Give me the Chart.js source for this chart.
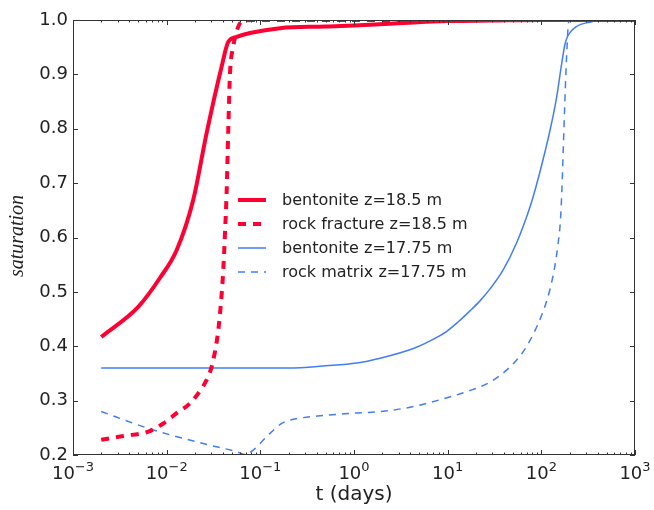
<!DOCTYPE html>
<html>
<head>
<meta charset="utf-8">
<script src="https://cdn.jsdelivr.net/npm/chart.js@4.4.1/dist/chart.umd.min.js"></script>
<style>
  html, body { margin: 0; padding: 0; background: #fff; }
  #wrap { width: 654px; height: 510px; }
</style>
</head>
<body>
<div id="wrap"><canvas id="chart"></canvas></div>
<script>
// bentonite z=18.5 m
const bent185T = [0.002, 0.005, 0.0085, 0.0128, 0.0192, 0.0267, 0.0386, 0.0455, 0.0558, 0.0775, 0.162, 0.5, 1, 2.4, 10, 30, 100, 1000];
const bent185S = [0.417, 0.473, 0.526, 0.577, 0.669, 0.792, 0.914, 0.960, 0.969, 0.976, 0.985, 0.988, 0.990, 0.993, 0.998, 0.999, 1.0, 1.0];

// rock fracture z=18.5 m
const frac185T = [0.002, 0.00344, 0.00637, 0.0092, 0.0128, 0.0177, 0.0227, 0.0267, 0.0302, 0.0328, 0.0356, 0.038, 0.0402, 0.042, 0.0436, 0.0455, 0.0474, 0.0514, 0.056, 0.063, 0.08, 1000];
const frac185S = [0.228, 0.235, 0.243, 0.258, 0.277, 0.295, 0.318, 0.338, 0.362, 0.39, 0.43, 0.48, 0.54, 0.61, 0.68, 0.80, 0.90, 0.951, 0.98, 0.997, 1.0, 1.0];

// bentonite z=17.75 m
const bent1775T = [0.002, 0.01, 0.2, 0.5, 1.07, 1.9, 4.3, 6.5, 9.7, 13, 17.3, 22, 28.2, 39, 54.4, 72, 81.8, 96.4, 123, 145, 164, 178, 193, 237, 330, 450, 1000];
const bent1775S = [0.36, 0.36, 0.36, 0.364, 0.369, 0.378, 0.396, 0.41, 0.427, 0.445, 0.465, 0.483, 0.505, 0.54, 0.59, 0.645, 0.675, 0.72, 0.795, 0.856, 0.917, 0.954, 0.972, 0.988, 0.996, 1.0, 1.0];

// rock matrix z=17.75 m
const matr1775T = [0.002, 0.00637, 0.0245, 0.0558, 0.0686, 0.084, 0.117, 0.169, 0.207, 0.5, 1, 1.9, 4.3, 9.7, 17, 28.2, 42.5, 64, 81.8, 105, 123, 139, 151, 160, 166, 172, 180, 188, 196, 250, 1000];
const matr1775S = [0.28, 0.249, 0.221, 0.206, 0.201, 0.209, 0.234, 0.258, 0.264, 0.273, 0.277, 0.28, 0.289, 0.305, 0.318, 0.334, 0.356, 0.39, 0.422, 0.465, 0.503, 0.546, 0.589, 0.632, 0.69, 0.77, 0.87, 0.95, 0.997, 1.0, 1.0];

const yTicks = [0.2, 0.3, 0.4, 0.5, 0.6, 0.7, 0.8, 0.9, 1.0];
const xExponents = [-3, -2, -1, 0, 1, 2, 3];

const RED = '#ff0033';
const BLUE = 'rgb(66,125,245)';
const INK = '#222';

function pts(t, s) {
    return t.map((v, i) => ({ x: v, y: s[i] }));
}

// frame, inward ticks, x labels with superscripts, titles, legend
const decorPlugin = {
    id: 'decor',
    afterDatasetsDraw(chart) {
        const ctx = chart.ctx;
        const a = chart.chartArea;
        const xs = chart.scales.x;
        const ys = chart.scales.y;
        ctx.save();

        // frame
        ctx.strokeStyle = '#333';
        ctx.lineWidth = 1;
        ctx.strokeRect(a.left + 0.5, a.top + 0.5, a.right - a.left - 1, a.bottom - a.top - 1);

        // x ticks
        ctx.beginPath();
        xExponents.forEach((e, i) => {
            const dec = Math.pow(10, e);
            const px = Math.round(xs.getPixelForValue(dec)) + 0.5;
            ctx.moveTo(px, a.bottom); ctx.lineTo(px, a.bottom - 5);
            ctx.moveTo(px, a.top); ctx.lineTo(px, a.top + 5);
            if (i < xExponents.length - 1) {
                for (let m = 2; m < 10; m++) {
                    const mx = Math.round(xs.getPixelForValue(m * dec)) + 0.5;
                    ctx.moveTo(mx, a.bottom); ctx.lineTo(mx, a.bottom - 2.5);
                    ctx.moveTo(mx, a.top); ctx.lineTo(mx, a.top + 2.5);
                }
            }
        });
        // y ticks
        yTicks.forEach(v => {
            const py = Math.round(ys.getPixelForValue(v)) + 0.5;
            ctx.moveTo(a.left, py); ctx.lineTo(a.left + 5, py);
            ctx.moveTo(a.right, py); ctx.lineTo(a.right - 5, py);
        });
        ctx.stroke();

        // x tick labels 10^n
        ctx.fillStyle = INK;
        ctx.textBaseline = 'alphabetic';
        ctx.textAlign = 'left';
        xExponents.forEach(e => {
            const px = xs.getPixelForValue(Math.pow(10, e));
            const exp = e < 0 ? '\u2212' + Math.abs(e) : String(e);
            ctx.font = '18px "DejaVu Sans"';
            const wb = ctx.measureText('10').width;
            ctx.font = '13px "DejaVu Sans"';
            const we = ctx.measureText(exp).width;
            const x0 = px - (wb + we) / 2;
            ctx.font = '18px "DejaVu Sans"';
            ctx.fillText('10', x0, 479);
            ctx.font = '13px "DejaVu Sans"';
            ctx.fillText(exp, x0 + wb, 471);
        });

        // axis titles
        ctx.textAlign = 'center';
        ctx.textBaseline = 'middle';
        ctx.font = '20px "DejaVu Sans"';
        ctx.fillText('t (days)', (a.left + a.right) / 2, 495);
        ctx.save();
        ctx.translate(18, 236);
        ctx.rotate(-Math.PI / 2);
        ctx.font = 'italic 20px "Liberation Serif"';
        ctx.fillText('saturation', 0, 0);
        ctx.restore();

        // legend
        const legTop = 200, legStep = 24;
        ctx.textAlign = 'left';
        ctx.font = '16px "DejaVu Sans"';
        chart.data.datasets.forEach((ds, i) => {
            const y = legTop + i * legStep;
            ctx.save();
            ctx.strokeStyle = ds.borderColor;
            ctx.lineWidth = ds.borderWidth;
            ctx.setLineDash(ds.borderDash || []);
            ctx.beginPath();
            ctx.moveTo(238, y);
            ctx.lineTo(266, y);
            ctx.stroke();
            ctx.restore();
            ctx.fillStyle = INK;
            ctx.fillText(ds.label, 282, y + 1);
        });

        ctx.restore();
    }
};

const ctx = document.getElementById('chart').getContext('2d');
new Chart(ctx, {
    type: 'line',
    data: {
        datasets: [
            {
                label: 'bentonite z=18.5 m',
                data: pts(bent185T, bent185S),
                borderColor: RED,
                borderWidth: 4,
                cubicInterpolationMode: 'monotone'
            },
            {
                label: 'rock fracture z=18.5 m',
                data: pts(frac185T, frac185S),
                borderColor: RED,
                borderWidth: 4,
                borderDash: [8, 7],
                cubicInterpolationMode: 'monotone'
            },
            {
                label: 'bentonite z=17.75 m',
                data: pts(bent1775T, bent1775S),
                borderColor: BLUE,
                borderWidth: 1.5,
                cubicInterpolationMode: 'monotone'
            },
            {
                label: 'rock matrix z=17.75 m',
                data: pts(matr1775T, matr1775S),
                borderColor: BLUE,
                borderWidth: 1.5,
                borderDash: [7, 6],
                cubicInterpolationMode: 'monotone'
            }
        ]
    },
    options: {
        responsive: true,
        maintainAspectRatio: false,
        animation: false,
        layout: { padding: { left: 0, right: 19, top: 20, bottom: 0 } },
        elements: { point: { radius: 0 } },
        plugins: {
            legend: { display: false },
            tooltip: { enabled: false }
        },
        scales: {
            x: {
                type: 'logarithmic',
                min: 0.001,
                max: 1000,
                grid: { display: false },
                border: { display: false },
                ticks: { display: false },
                afterFit(scale) { scale.height = 55; }
            },
            y: {
                min: 0.2,
                max: 1.0,
                grid: { display: false, drawTicks: false },
                border: { display: false },
                afterBuildTicks(scale) {
                    scale.ticks = yTicks.map(v => ({ value: v }));
                },
                ticks: {
                    padding: 5,
                    color: INK,
                    font: { family: 'DejaVu Sans', size: 18 },
                    callback: v => Number(v).toFixed(1)
                },
                afterFit(scale) { scale.width = 73; }
            }
        }
    },
    plugins: [decorPlugin]
});
</script>
</body>
</html>
